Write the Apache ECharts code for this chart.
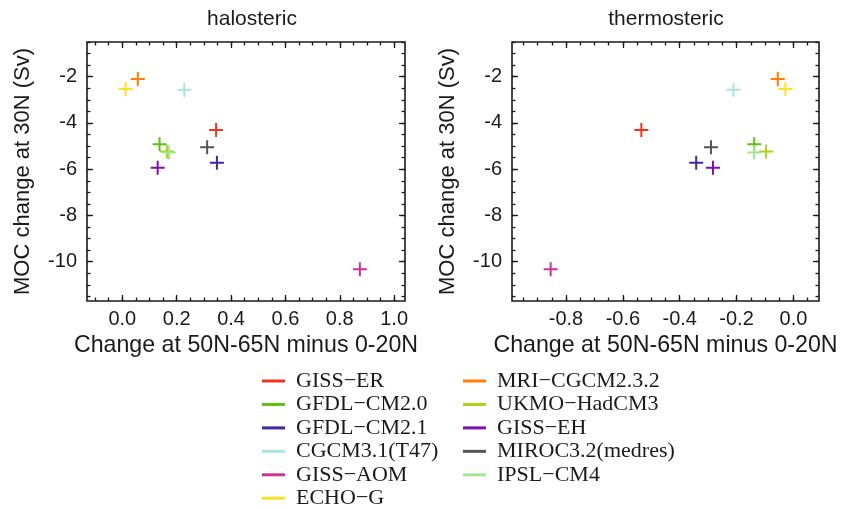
<!DOCTYPE html>
<html>
<head>
<meta charset="utf-8">
<script src="https://cdn.jsdelivr.net/npm/echarts@6/dist/echarts.min.js"></script>
<style>
html,body{margin:0;padding:0;background:#fff;}
#chart{width:856px;height:509px;}
</style>
</head>
<body>
<div id="chart"></div>
<script>
// ---- data ----
const models = ['GISS\u2212ER','GFDL\u2212CM2.0','GFDL\u2212CM2.1','CGCM3.1(T47)','GISS\u2212AOM','ECHO\u2212G',
                'MRI\u2212CGCM2.3.2','UKMO\u2212HadCM3','GISS\u2212EH','MIROC3.2(medres)','IPSL\u2212CM4'];
const colors = ['#ee3322','#5fbf12','#3c2aa0','#a8e4e4','#cc3399','#ffe020',
                '#ff7f00','#a8d41a','#7a10b0','#555555','#a0e890'];
const mocChange   = [-4.30,-4.92,-5.72,-2.57,-10.33,-2.53,-2.10,-5.23,-5.94,-5.05,-5.28];
const halosteric  = [0.345,0.137,0.348,0.228,0.874,0.012,0.057,0.164,0.130,0.312,0.172];
const thermosteric= [-0.535,-0.138,-0.342,-0.211,-0.854,-0.028,-0.055,-0.096,-0.283,-0.290,-0.138];
const legendCol1 = models.slice(0,6);
const legendCol2 = models.slice(6);
const titles = ['halosteric','thermosteric'];
const xName = 'Change at 50N-65N minus 0-20N';
const yName = 'MOC change at 30N (Sv)';
const xTicksHalo = [0,0.2,0.4,0.6,0.8,1.0];
const xTicksThermo = [-0.8,-0.6,-0.4,-0.2,0.0];
const yTicks = [-10,-8,-6,-4,-2];

// ---- layout ----
const xRange = [[-0.13,1.04],[-0.99,0.09]];
const yRange = [-11.7,-0.5];
const grids = [
  {left:87, top:42, width:318, height:259},
  {left:512, top:42, width:307, height:259}
];
const sans = 'Liberation Sans, Arial, Helvetica, sans-serif';
const serif = 'Liberation Serif, Times New Roman, serif';
const ink = '#1a1a1a';

function steps(min,max,step){
  const out=[]; const s=Math.ceil(min/step-1e-9), e=Math.floor(max/step+1e-9);
  for(let i=s;i<=e;i++) out.push(+(i*step).toFixed(4));
  return out;
}

const xAxes=[], yAxes=[];
function tickAxis(kind, g, pos, rng, vals, len, withLabels, fmt, name){
  const a = {
    type:'value', gridIndex:g, position:pos, min:rng[0], max:rng[1],
    axisLine:{show:false, onZero:false}, splitLine:{show:false},
    axisTick:{show:true, inside:true, length:len, customValues:vals, lineStyle:{color:ink,width:1.3}},
    axisLabel:{show:withLabels, customValues:vals, formatter:fmt, fontFamily:sans, fontSize:20, color:ink,
               margin: kind==='x'?8:10},
    silent:true
  };
  if(name){
    a.name=name; a.nameLocation='middle';
    a.nameGap = kind==='x'?26:53;
    a.nameTextStyle={fontFamily:sans,fontSize:kind==='x'?23.2:22,color:ink};
  }
  (kind==='x'?xAxes:yAxes).push(a);
  return (kind==='x'?xAxes:yAxes).length-1;
}
const xFmt = v=>v.toFixed(1);
const yFmt = v=>String(Math.round(v));
const mainX=[], mainY=[];
[0,1].forEach(g=>{
  const xr=xRange[g], xt = g===0?xTicksHalo:xTicksThermo;
  const xm = steps(xr[0],xr[1],0.05);
  mainX[g]=tickAxis('x',g,'bottom',xr,xt,6,true,xFmt,xName);
  tickAxis('x',g,'bottom',xr,xm,3.5,false,xFmt);
  tickAxis('x',g,'top',xr,xt,6,false,xFmt);
  tickAxis('x',g,'top',xr,xm,3.5,false,xFmt);
  const ym = steps(yRange[0],yRange[1],0.5);
  mainY[g]=tickAxis('y',g,'left',yRange,yTicks,6,true,yFmt,yName);
  tickAxis('y',g,'left',yRange,ym,3.5,false,yFmt);
  tickAxis('y',g,'right',yRange,yTicks,6,false,yFmt);
  tickAxis('y',g,'right',yRange,ym,3.5,false,yFmt);
});

const plus = 'path://M7,0L7,14M0,7L14,7';
const series=[];
[halosteric, thermosteric].forEach((xs,g)=>{
  models.forEach((m,i)=>{
    series.push({
      type:'scatter', name:m, xAxisIndex:mainX[g], yAxisIndex:mainY[g],
      data:[[xs[i], mocChange[i]]],
      symbol:plus, symbolSize:14,
      itemStyle:{color:colors[i], borderColor:colors[i], borderWidth:2, opacity:1},
      emphasis:{disabled:true}, silent:true, z:3
    });
  });
});

function legend(data,left){
  return {
    data:data, orient:'vertical', left:left, top:370, height:170, padding:0,
    icon:'rect', itemWidth:23, itemHeight:3, itemGap:1.45,
    itemStyle:{borderWidth:0},
    selectedMode:false,
    textStyle:{fontFamily:serif, fontSize:22, lineHeight:22, color:ink, padding:[0,0,0,6]}
  };
}

const chart = echarts.init(document.getElementById('chart'), null, {renderer:'canvas'});
chart.setOption({
  animation:false,
  backgroundColor:'#fff',
  title: titles.map((t,g)=>({
    text:t, left: g===0?252:666, top:9, textAlign:'center', padding:0,
    textStyle:{fontFamily:sans, fontSize:21, fontWeight:'normal', color:ink}
  })),
  grid: grids.map(g=>Object.assign({show:true, borderColor:ink, borderWidth:1.6, backgroundColor:'transparent', containLabel:false}, g)),
  legend:[legend(legendCol1,262), legend(legendCol2,463)],
  xAxis:xAxes, yAxis:yAxes,
  series:series
});
</script>
</body>
</html>
